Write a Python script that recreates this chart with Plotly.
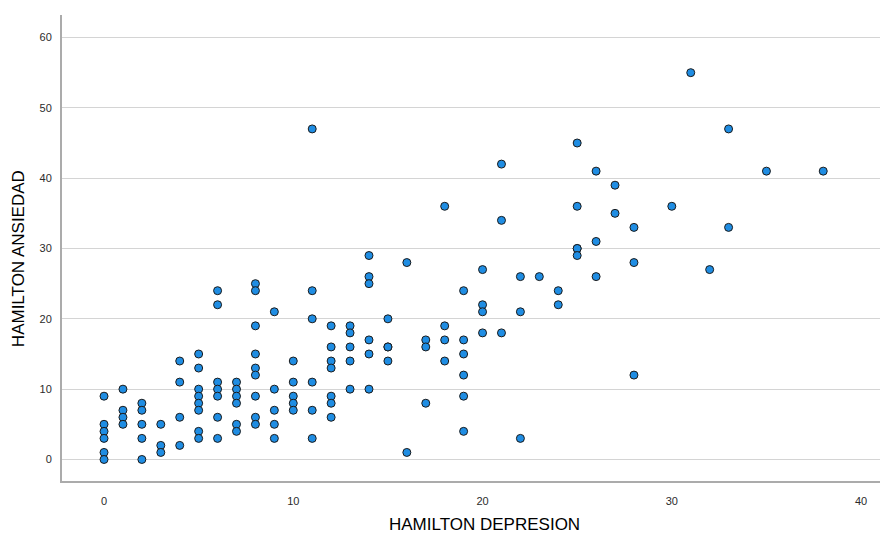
import plotly.graph_objects as go

# Hamilton depression (x) vs Hamilton anxiety (y) scores, grouped by depression score
dep_scores = [0, 1, 2, 3, 4, 5, 6, 7, 8, 9, 10, 11, 12, 13, 14, 15, 16, 17, 18, 19,
              20, 21, 22, 23, 24, 25, 26, 27, 28, 30, 31, 32, 33, 35, 38]
anx_by_dep = [
    [9, 5, 4, 3, 1, 0],                 # 0
    [10, 7, 6, 5],                      # 1
    [8, 7, 5, 3, 0],                    # 2
    [5, 2, 1],                          # 3
    [14, 11, 6, 2],                     # 4
    [15, 13, 10, 9, 8, 7, 4, 3],        # 5
    [24, 22, 11, 10, 9, 6, 3],          # 6
    [11, 10, 9, 8, 5, 4],               # 7
    [25, 24, 19, 15, 13, 12, 9, 6, 5],  # 8
    [21, 10, 7, 5, 3],                  # 9
    [14, 11, 9, 8, 7],                  # 10
    [47, 24, 20, 11, 7, 3],             # 11
    [19, 16, 14, 13, 9, 8, 6],          # 12
    [19, 18, 16, 14, 10],               # 13
    [29, 26, 25, 17, 15, 10],           # 14
    [20, 16, 16, 14],                   # 15
    [28, 1],                            # 16
    [17, 16, 8],                        # 17
    [36, 19, 17, 14],                   # 18
    [24, 17, 15, 12, 9, 4],             # 19
    [27, 22, 21, 18],                   # 20
    [42, 34, 18],                       # 21
    [26, 21, 3],                        # 22
    [26],                               # 23
    [24, 22],                           # 24
    [45, 36, 30, 30, 29],               # 25
    [41, 31, 26],                       # 26
    [39, 35],                           # 27
    [33, 28, 12],                       # 28
    [36],                               # 30
    [55],                               # 31
    [27],                               # 32
    [47, 33],                           # 33
    [41],                               # 35
    [41],                               # 38
]

x_ticks = [0, 10, 20, 30, 40]
y_ticks = [0, 10, 20, 30, 40, 50, 60]

depresion = [d for d, group in zip(dep_scores, anx_by_dep) for _ in group]
ansiedad = [a for group in anx_by_dep for a in group]

fig = go.Figure(
    go.Scatter(
        x=depresion,
        y=ansiedad,
        mode="markers",
        marker=dict(size=8, color="#1f8de3", line=dict(color="#1b1b1b", width=1)),
        hoverinfo="x+y",
    )
)

font_family = "Liberation Sans, Arial, sans-serif"

fig.update_layout(
    width=894,
    height=534,
    margin=dict(l=62, r=14, t=15, b=53),
    paper_bgcolor="white",
    plot_bgcolor="white",
    showlegend=False,
    font=dict(family=font_family, size=11, color="#2b2b2b"),
    xaxis=dict(
        range=[-2.22, 41.0],
        tickvals=x_ticks,
        showgrid=False,
        zeroline=False,
        showline=True,
        linecolor="#ababab",
        linewidth=2,
        ticks="",
        ticklabelstandoff=9,
        tickfont=dict(size=11, color="#2b2b2b"),
    ),
    yaxis=dict(
        range=[-3.06, 63.2],
        tickvals=y_ticks,
        showgrid=True,
        gridcolor="#d4d4d4",
        gridwidth=1,
        zeroline=False,
        showline=True,
        linecolor="#ababab",
        linewidth=2,
        ticks="",
        ticklabelstandoff=6,
        tickfont=dict(size=11, color="#2b2b2b"),
    ),
    annotations=[
        dict(
            text="HAMILTON DEPRESION",
            x=0.516, y=-0.094, xref="paper", yref="paper",
            xanchor="center", yanchor="middle", showarrow=False,
            font=dict(family=font_family, size=17, color="#000000"),
        ),
        dict(
            text="HAMILTON ANSIEDAD",
            x=-0.053, y=0.4775, xref="paper", yref="paper",
            xanchor="center", yanchor="middle", showarrow=False, textangle=-90,
            font=dict(family=font_family, size=17, color="#000000"),
        ),
    ],
)

fig.write_html("out.html")
